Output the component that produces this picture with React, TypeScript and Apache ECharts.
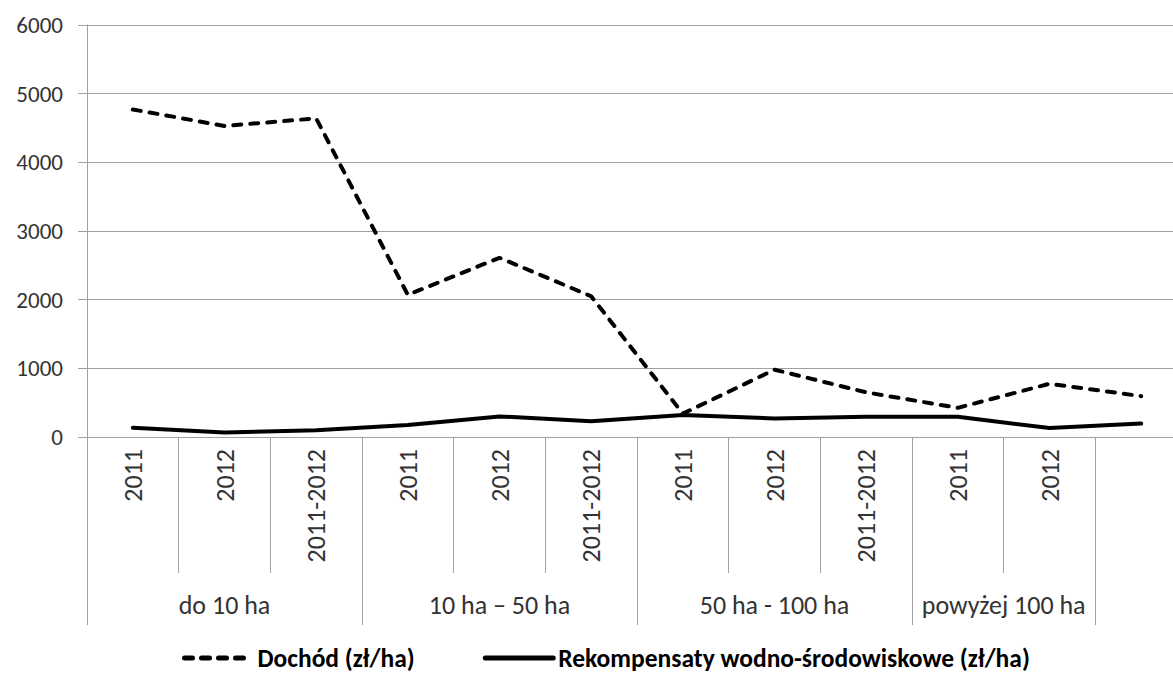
import React, { useEffect, useRef } from "react";
import * as echarts from "echarts";

const years = ["2011", "2012", "2011-2012", "2011", "2012", "2011-2012", "2011", "2012", "2011-2012", "2011", "2012", ""];
const groups = ["do 10 ha", "10 ha – 50 ha", "50 ha - 100 ha", "powyżej 100 ha"];
const groupCenters = [1.5, 4.5, 7.5, 10];
const groupBounds = [0, 3, 6, 9, 11];
const dochod = [4770, 4530, 4640, 2070, 2610, 2050, 340, 980, 650, 425, 775, 595];
const rekompensaty = [135, 65, 100, 175, 300, 230, 320, 270, 295, 295, 130, 195];
const yTicks = { min: 0, max: 6000, interval: 1000 };
const seriesNames = ["Dochód (zł/ha)", "Rekompensaty wodno-środowiskowe (zł/ha)"];

const FONT = "Carlito, Lato, 'Open Sans', sans-serif";
const GRAY = "#a0a0a0";
const TEXT = "#333333";

export default function App() {
  const ref = useRef<HTMLDivElement>(null);
  useEffect(() => {
    if (!ref.current) return;
    const chart = echarts.init(ref.current, undefined, { renderer: "svg" });
    chart.setOption({
      animation: false,
      backgroundColor: "#ffffff",
      textStyle: { fontFamily: FONT },
      grid: { left: 87, top: 25, width: 1100, height: 412, containLabel: false },
      legend: {
        left: 182,
        top: 645,
        padding: 0,
        itemWidth: 68,
        itemHeight: 14,
        itemGap: 68,
        itemStyle: { opacity: 0 },
        lineStyle: { width: 5 },
        textStyle: { fontFamily: FONT, fontSize: 25.5, fontWeight: "bold", color: "#000", lineHeight: 24 },
        data: seriesNames,
      },
      yAxis: {
        type: "value",
        min: yTicks.min,
        max: yTicks.max,
        interval: yTicks.interval,
        axisLine: { show: true, lineStyle: { color: GRAY, width: 1 } },
        axisTick: { show: true, length: 9, lineStyle: { color: GRAY } },
        splitLine: { show: true, lineStyle: { color: GRAY, width: 1 } },
        axisLabel: { fontFamily: FONT, fontSize: 23, color: TEXT, margin: 24, formatter: (v: number) => String(v) },
      },
      xAxis: [
        {
          type: "category",
          data: years,
          boundaryGap: true,
          axisLine: { show: true, lineStyle: { color: GRAY, width: 1 } },
          axisTick: { show: true, interval: 0, length: 136, lineStyle: { color: GRAY } },
          axisLabel: { interval: 0, rotate: 90, fontFamily: FONT, fontSize: 26, color: TEXT, margin: 12 },
        },
        {
          type: "value",
          min: 0,
          max: 12,
          position: "bottom",
          axisLine: { show: false },
          splitLine: { show: false },
          axisTick: { show: true, customValues: groupBounds, length: 188, lineStyle: { color: GRAY } },
          axisLabel: {
            customValues: groupCenters,
            formatter: (v: number) => groups[groupCenters.indexOf(v)] ?? "",
            fontFamily: FONT,
            fontSize: 26,
            color: TEXT,
            margin: 155,
          },
        },
      ],
      series: [
        {
          name: seriesNames[0],
          type: "line",
          data: dochod,
          xAxisIndex: 0,
          symbol: "none",
          showSymbol: false,
          lineStyle: { color: "#000", width: 4, type: [8, 9], cap: "round" },
          itemStyle: { color: "#000" },
        },
        {
          name: seriesNames[1],
          type: "line",
          data: rekompensaty,
          xAxisIndex: 0,
          symbol: "none",
          showSymbol: false,
          lineStyle: { color: "#000", width: 4, type: "solid", cap: "round" },
          itemStyle: { color: "#000" },
        },
      ],
    });
    return () => chart.dispose();
  }, []);
  return (
    <div style={{ position: "absolute", left: 0, top: 0, width: 1173, height: 673, overflow: "hidden", background: "#fff" }}>
      <div ref={ref} style={{ width: 1190, height: 673 }} />
    </div>
  );
}
